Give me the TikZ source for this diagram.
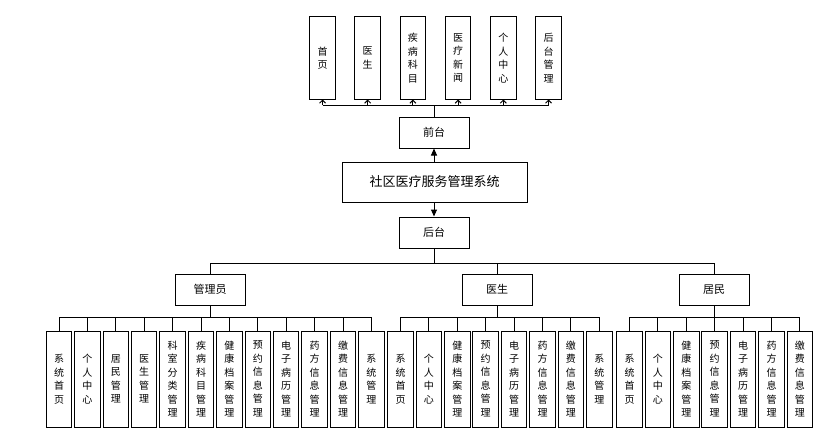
\documentclass[tikz,border=0pt]{standalone}
\usepackage{fontspec}
\newfontfamily\cjk{Noto Sans CJK SC}
\usetikzlibrary{arrows.meta,positioning}

\begin{document}
\begin{tikzpicture}[x=1pt,y=-1pt,line width=1pt,
  box/.style={draw,minimum width=70pt,minimum height=31pt,inner sep=0pt,
    font=\cjk\fontsize{11}{13}\selectfont},
  vbox/.style={draw,minimum width=25.5pt,inner sep=0pt,align=center,
    font=\cjk\fontsize{10}{13.5}\selectfont},
  up/.style={-{Straight Barb[length=3pt,width=6pt]}},
  solid arrow/.style={-{Triangle[length=7pt,width=6pt]}}]
  \useasboundingbox (0,0) rectangle (835,436);

  % middle column
  \node[box,minimum width=185pt,minimum height=40pt,
    font=\cjk\fontsize{13}{15}\selectfont] (sys) at (434.5,182) {社区医疗服务管理系统};
  \node[box] (front) at (434,132.5) {前台};
  \node[box] (back) at (434,232.5) {后台};
  \draw[solid arrow] (sys.north -| front) -- (front.south);
  \draw[solid arrow] (sys.south -| back) -- (back.north);

  % front pages
  \foreach \t [count=\i] in {首\\页,医\\生,疾\\病\\科\\目,医\\疗\\新\\闻,
      个\\人\\中\\心,后\\台\\管\\理}
    \node[vbox,minimum height=82pt] (f\i) at ({322.5+45.2*(\i-1)},58) {\t};
  \coordinate (fbus) at (434,105);
  \draw (front.north) -- (fbus);
  \draw (f1.south |- fbus) -- (f6.south |- fbus);
  \foreach \i in {1,...,6}
    \draw[up] (f\i.south |- fbus) -- (f\i.south);

  % roles
  \node[box] (admin) at (210,289.5) {管理员};
  \node[box] (doctor) at (497,289.5) {医生};
  \node[box] (resident) at (714,289.5) {居民};
  \coordinate (rbus) at (434,263);
  \draw (back.south) -- (rbus);
  \draw (admin.north |- rbus) -- (resident.north |- rbus);
  \foreach \r in {admin,doctor,resident}
    \draw (\r.north |- rbus) -- (\r.north);

  % admin modules
  \foreach \t [count=\i] in {系\\统\\首\\页,个\\人\\中\\心,居\\民\\管\\理,
      医\\生\\管\\理,科\\室\\分\\类\\管\\理,疾\\病\\科\\目\\管\\理,
      健\\康\\档\\案\\管\\理,预\\约\\信\\息\\管\\理,电\\子\\病\\历\\管\\理,
      药\\方\\信\\息\\管\\理,缴\\费\\信\\息\\管\\理,系\\统\\管\\理}
    \node[vbox,minimum height=96pt] (a\i) at ({59+28.4*(\i-1)},379) {\t};
  \coordinate (abus) at (210,317);
  \draw (admin.south) -- (abus);
  \draw (a1.north |- abus) -- (a12.north |- abus);
  \foreach \i in {1,...,12}
    \draw (a\i.north |- abus) -- (a\i.north);

  % doctor modules
  \foreach \t [count=\i] in {系\\统\\首\\页,个\\人\\中\\心,
      健\\康\\档\\案\\管\\理,预\\约\\信\\息\\管\\理,电\\子\\病\\历\\管\\理,
      药\\方\\信\\息\\管\\理,缴\\费\\信\\息\\管\\理,系\\统\\管\\理}
    \node[vbox,minimum height=96pt] (d\i) at ({400.5+28.4*(\i-1)},379) {\t};
  \coordinate (dbus) at (497,317);
  \draw (doctor.south) -- (dbus);
  \draw (d1.north |- dbus) -- (d8.north |- dbus);
  \foreach \i in {1,...,8}
    \draw (d\i.north |- dbus) -- (d\i.north);

  % resident modules
  \foreach \t [count=\i] in {系\\统\\首\\页,个\\人\\中\\心,
      健\\康\\档\\案\\管\\理,预\\约\\信\\息\\管\\理,电\\子\\病\\历\\管\\理,
      药\\方\\信\\息\\管\\理,缴\\费\\信\\息\\管\\理}
    \node[vbox,minimum height=96pt] (r\i) at ({629.5+28.4*(\i-1)},379) {\t};
  \coordinate (resbus) at (714,317);
  \draw (resident.south) -- (resbus);
  \draw (r1.north |- resbus) -- (r7.north |- resbus);
  \foreach \i in {1,...,7}
    \draw (r\i.north |- resbus) -- (r\i.north);
\end{tikzpicture}
\end{document}
